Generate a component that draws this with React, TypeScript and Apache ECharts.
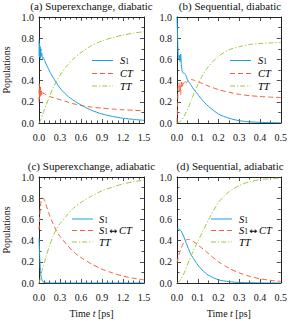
import React, { useEffect, useRef } from "react";
import * as echarts from "echarts";

// ---------- data ----------
const tA = [0, 0.004, 0.008, 0.012, 0.016, 0.02, 0.025, 0.03, 0.04, 0.05, 0.06, 0.08, 0.1, 0.15, 0.2, 0.3, 0.4, 0.5, 0.6, 0.75, 0.9, 1.05, 1.2, 1.35, 1.5];
const s1A = [0.78, 0.63, 0.75, 0.62, 0.72, 0.61, 0.7, 0.63, 0.66, 0.61, 0.62, 0.59, 0.56, 0.49, 0.43, 0.33, 0.26, 0.21, 0.17, 0.12, 0.085, 0.062, 0.045, 0.034, 0.025];
const ctA = [0.2, 0.37, 0.23, 0.35, 0.25, 0.34, 0.26, 0.31, 0.27, 0.3, 0.28, 0.275, 0.265, 0.25, 0.24, 0.22, 0.2, 0.18, 0.165, 0.15, 0.14, 0.132, 0.125, 0.12, 0.115];
const ttA = [0, 0.003, 0.007, 0.012, 0.017, 0.022, 0.03, 0.038, 0.055, 0.075, 0.095, 0.13, 0.165, 0.25, 0.33, 0.45, 0.54, 0.61, 0.665, 0.73, 0.775, 0.805, 0.83, 0.848, 0.862];

const tB = [0, 0.003, 0.006, 0.009, 0.012, 0.015, 0.018, 0.021, 0.025, 0.03, 0.035, 0.04, 0.045, 0.05, 0.06, 0.07, 0.08, 0.1, 0.12, 0.15, 0.2, 0.25, 0.3, 0.35, 0.4, 0.45, 0.5];
const s1B = [1.0, 0.8, 0.62, 0.6, 0.64, 0.58, 0.65, 0.55, 0.49, 0.47, 0.47, 0.46, 0.44, 0.41, 0.38, 0.35, 0.32, 0.27, 0.22, 0.16, 0.085, 0.045, 0.022, 0.011, 0.006, 0.003, 0.002];
const ctB = [0, 0.18, 0.36, 0.38, 0.3, 0.36, 0.27, 0.4, 0.33, 0.38, 0.36, 0.39, 0.38, 0.39, 0.4, 0.41, 0.405, 0.39, 0.375, 0.35, 0.315, 0.29, 0.27, 0.258, 0.25, 0.244, 0.24];
const ttB = [0, 0.001, 0.003, 0.006, 0.01, 0.014, 0.019, 0.025, 0.035, 0.05, 0.065, 0.085, 0.105, 0.125, 0.17, 0.22, 0.27, 0.36, 0.44, 0.53, 0.63, 0.69, 0.72, 0.74, 0.75, 0.755, 0.76];

const tC = [0, 0.01, 0.02, 0.03, 0.045, 0.06, 0.08, 0.1, 0.15, 0.2, 0.25, 0.3, 0.4, 0.5, 0.6, 0.75, 0.9, 1.05, 1.2, 1.35, 1.5];
const s1C = [0.42, 0.25, 0.12, 0.06, 0.025, 0.01, 0.004, 0.002, 0, 0, 0, 0, 0, 0, 0, 0, 0, 0, 0, 0, 0];
const ctC = [0.5, 0.63, 0.72, 0.77, 0.8, 0.8, 0.78, 0.74, 0.64, 0.56, 0.49, 0.44, 0.36, 0.29, 0.24, 0.18, 0.13, 0.095, 0.065, 0.045, 0.03];
const ttC = [0, 0.02, 0.05, 0.08, 0.12, 0.16, 0.2, 0.25, 0.35, 0.44, 0.51, 0.56, 0.64, 0.71, 0.76, 0.82, 0.87, 0.905, 0.935, 0.955, 0.97];

const tD = [0, 0.01, 0.02, 0.03, 0.04, 0.05, 0.06, 0.07, 0.08, 0.1, 0.12, 0.15, 0.2, 0.25, 0.3, 0.35, 0.4, 0.45, 0.5];
const s1D = [0.51, 0.51, 0.49, 0.45, 0.4, 0.35, 0.3, 0.26, 0.23, 0.17, 0.125, 0.075, 0.03, 0.013, 0.005, 0.002, 0.001, 0, 0];
const ctD = [0.19, 0.27, 0.33, 0.37, 0.4, 0.41, 0.41, 0.4, 0.39, 0.36, 0.33, 0.28, 0.2, 0.14, 0.095, 0.063, 0.04, 0.025, 0.015];
const ttD = [0, 0.015, 0.04, 0.075, 0.12, 0.17, 0.22, 0.265, 0.31, 0.39, 0.47, 0.59, 0.76, 0.86, 0.92, 0.955, 0.975, 0.985, 0.99];

const titles = ["(a) Superexchange, diabatic", "(b) Sequential, diabatic", "(c) Superexchange, adiabatic", "(d) Sequential, adiabatic"];
const yTicks = [0, 0.2, 0.4, 0.6, 0.8, 1.0];

// ---------- styling ----------
const FONT = "Liberation Serif, DejaVu Serif, serif";
const C_S1 = "#1a9fe0";
const C_CT = "#f2603c";
const C_TT = "#98c93c";
const DASH_CT = [5, 3];
const DASH_TT = [5, 2, 1.2, 2];
const AXIS_C = "#222";

const panels = [
  { left: 39, top: 17, w: 105, xmax: 1.5, xint: 0.3, xminor: 4, t: tA, s1: s1A, ct: ctA, tt: ttA, mid: "CT", leg: { x: 92, tx: 120, ys: [60.5, 73.5, 86] } },
  { left: 177, top: 17, w: 106, xmax: 0.5, xint: 0.1, xminor: 2, t: tB, s1: s1B, ct: ctB, tt: ttB, mid: "CT", leg: { x: 230, tx: 258, ys: [60.5, 73.5, 86] } },
  { left: 39, top: 177, w: 105, xmax: 1.5, xint: 0.3, xminor: 4, t: tC, s1: s1C, ct: ctC, tt: ttC, mid: "S1CT", leg: { x: 72, tx: 99, ys: [219, 230.5, 242] } },
  { left: 177, top: 177, w: 106, xmax: 0.5, xint: 0.1, xminor: 2, t: tD, s1: s1D, ct: ctD, tt: ttD, mid: "S1CT", leg: { x: 211, tx: 239, ys: [219, 230.5, 242] } },
];
const H = 106;

const rich = {
  i: { fontFamily: FONT, fontSize: 10.5, fontStyle: "italic", color: "#111", lineHeight: 10 },
  n: { fontFamily: FONT, fontSize: 10.5, color: "#111", lineHeight: 10 },
  sp: { fontFamily: FONT, fontSize: 6, color: "#111", lineHeight: 10 },
  a: { fontFamily: "DejaVu Sans, sans-serif", fontSize: 9.5, color: "#111", lineHeight: 10 },
  s: { fontFamily: FONT, fontSize: 7.5, color: "#111", lineHeight: 5, verticalAlign: "bottom" },
};
const richAxis = {
  i: { fontFamily: FONT, fontSize: 10, fontStyle: "italic", color: "#111" },
  n: { fontFamily: FONT, fontSize: 10, color: "#111" },
};

export default function App() {
  const ref = useRef<HTMLDivElement>(null);
  useEffect(() => {
    if (!ref.current) return;
    const chart = echarts.init(ref.current, undefined, { renderer: "svg" });
    const grid: any[] = [];
    const xAxis: any[] = [];
    const yAxis: any[] = [];
    const series: any[] = [];
    const graphic: any[] = [];
    panels.forEach((p, i) => {
      grid.push({ left: p.left, top: p.top, width: p.w, height: H, containLabel: false });
      const common = {
        type: "value",
        gridIndex: i,
        min: 0,
        splitLine: { show: false },
        axisLine: { show: true, onZero: false, lineStyle: { color: AXIS_C, width: 1 } },
        axisTick: { show: true, inside: true, length: 4, lineStyle: { color: AXIS_C, width: 0.8 } },
      };
      const xBase = {
        ...common,
        max: p.xmax,
        interval: p.xint,
        minorTick: { show: true, splitNumber: p.xminor, length: 2.5, lineStyle: { color: AXIS_C, width: 0.8 } },
      };
      xAxis.push({
        ...xBase,
        position: "bottom",
        axisLabel: { show: true, margin: 9, fontFamily: FONT, fontSize: 10, color: "#111", formatter: (v: number) => v.toFixed(1) },
        ...(i >= 2
          ? {
              name: "{n|Time }{i|t}{n| [ps]}",
              nameLocation: "middle",
              nameGap: 25,
              nameTextStyle: { rich: richAxis },
            }
          : {}),
      });
      xAxis.push({ ...xBase, position: "top", axisLabel: { show: false } });
      const yBase = {
        ...common,
        max: 1,
        interval: 0.2,
        minorTick: { show: true, splitNumber: 2, length: 2.5, lineStyle: { color: AXIS_C, width: 0.8 } },
      };
      yAxis.push({
        ...yBase,
        position: "left",
        axisLabel: {
          show: true, margin: 5, fontFamily: FONT, fontSize: 10, color: "#111",
          formatter: (v: number) => (yTicks.some((t) => Math.abs(t - v) < 1e-9) ? v.toFixed(1) : ""),
        },
        ...(i % 2 === 0
          ? { name: "Populations", nameLocation: "middle", nameGap: 28, nameTextStyle: { fontFamily: FONT, fontSize: 10, color: "#111" } }
          : {}),
      });
      yAxis.push({ ...yBase, position: "right", axisLabel: { show: false } });

      const mk = (ys: number[]) => p.t.map((t, k) => [t, ys[k]]);
      const base = { type: "line", xAxisIndex: 2 * i, yAxisIndex: 2 * i, showSymbol: false, smooth: 0.25, z: 3 };
      series.push({ ...base, name: "S1", data: mk(p.s1), lineStyle: { color: C_S1, width: 1 } });
      series.push({ ...base, name: p.mid, data: mk(p.ct), lineStyle: { color: C_CT, width: 1, type: DASH_CT } });
      series.push({ ...base, name: "TT", data: mk(p.tt), lineStyle: { color: C_TT, width: 1, type: DASH_TT } });

      // title
      graphic.push({
        type: "text",
        x: p.left + p.w / 2,
        y: p.top - 11,
        style: { text: titles[i], font: `11px ${FONT}`, fill: "#111", textAlign: "center", textVerticalAlign: "middle", align: "center", verticalAlign: "middle" },
      });
      // legend
      const labels = ["{i|S}{s|1}", p.mid === "CT" ? "{i|CT}" : "{i|S}{s|1}{sp| }{a|↔}{sp| }{i|CT}", "{i|TT}"];
      const colors = [C_S1, C_CT, C_TT];
      const dashes: any[] = [null, DASH_CT, DASH_TT];
      labels.forEach((lab, k) => {
        const y = p.leg.ys[k];
        graphic.push({
          type: "line",
          shape: { x1: p.leg.x, y1: y, x2: p.leg.x + 21, y2: y },
          style: { stroke: colors[k], lineWidth: 1, lineDash: dashes[k] || undefined },
        });
        graphic.push({
          type: "text",
          x: p.leg.tx,
          y: y,
          style: { text: lab, rich, textAlign: "left", textVerticalAlign: "middle", align: "left", verticalAlign: "middle" },
        });
      });
    });

    chart.setOption({
      animation: false,
      backgroundColor: "#fff",
      grid,
      xAxis,
      yAxis,
      series,
      graphic,
    });
    return () => chart.dispose();
  }, []);
  return <div ref={ref} style={{ position: "absolute", left: 0, top: 0, width: 290, height: 321 }} />;
}
